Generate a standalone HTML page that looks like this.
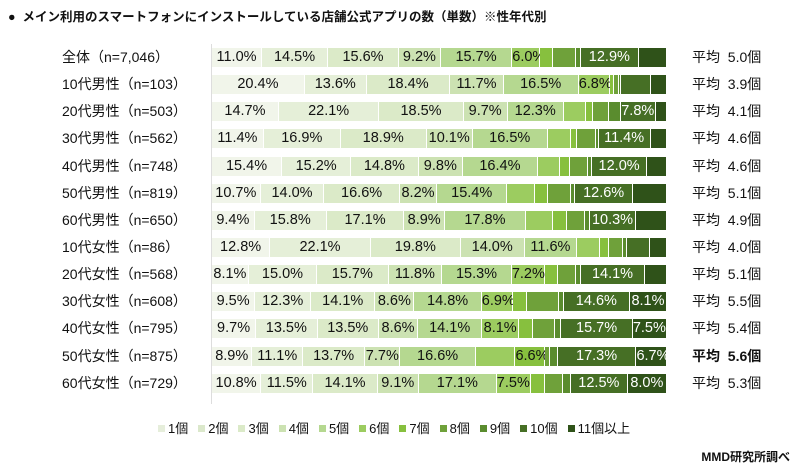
<!DOCTYPE html>
<html><head><meta charset="utf-8"><style>
body{margin:0;width:800px;height:475px;background:#fff;font-family:"Liberation Sans","Noto Sans CJK JP",sans-serif;position:relative;overflow:hidden;color:#111}
.t{position:absolute;left:8px;top:6px;font-size:12.5px;font-weight:bold}
.row{position:absolute;left:0;width:800px;height:19px}
.lab{position:absolute;left:62px;top:0;font-size:14px;line-height:19px}
.avg{position:absolute;left:692px;top:0;font-size:14px;line-height:19px}
.bar{position:absolute;left:212px;width:455px;height:19px;display:flex}
.bar i{display:block;height:19px;box-sizing:border-box;border-right:1px solid #fff;font-style:normal;font-size:14.5px;line-height:19px;text-align:center;white-space:nowrap;overflow:visible}
.c1{background:#f1f5ea}.c2{background:#e5efd8}.c3{background:#dbeac8}.c4{background:#cce2b2}.c5{background:#b5d890}.c6{background:#9ccc60}.c7{background:#87c03e}.c8{background:#6fa13a}.c9{background:#5a8c2e}.c10{background:#466f25;color:#fff}.c11{background:#2f5219}
.axis{position:absolute;left:211px;top:44px;width:1px;height:360px;background:#ddd}
.leg{position:absolute;top:418px;left:158px;font-size:13px;display:flex;gap:0}
.leg span{margin-right:10px}
.leg b{display:inline-block;width:7px;height:7px;margin-right:3px;vertical-align:1px}
.src{position:absolute;right:10px;top:448px;font-size:12px;font-weight:bold}
</style></head><body>
<div class="t">●&nbsp; メイン利用のスマートフォンにインストールしている店舗公式アプリの数（単数）※性年代別</div>
<div class="axis"></div>

<div class="row" style="top:48px"><div class="lab">全体（n=7,046）</div><div class="bar">
<i class="c1" style="width:11%">11.0%</i><i class="c2" style="width:14.5%">14.5%</i><i class="c3" style="width:15.6%">15.6%</i><i class="c4" style="width:9.2%">9.2%</i><i class="c5" style="width:15.7%">15.7%</i><i class="c6" style="width:6%">6.0%</i><i class="c7" style="width:3%"></i><i class="c8" style="width:5%"></i><i class="c9" style="width:1%"></i><i class="c10" style="width:12.9%">12.9%</i><i class="c11" style="width:6.1%"></i></div><div class="avg">平均&nbsp; 5.0個</div></div>

<div class="row" style="top:75px"><div class="lab">10代男性（n=103）</div><div class="bar">
<i class="c1" style="width:20.4%">20.4%</i><i class="c2" style="width:13.6%">13.6%</i><i class="c3" style="width:18.4%">18.4%</i><i class="c4" style="width:11.7%">11.7%</i><i class="c5" style="width:16.5%">16.5%</i><i class="c6" style="width:6.8%">6.8%</i><i class="c7" style="width:1%"></i><i class="c8" style="width:1%"></i><i class="c9" style="width:.6%"></i><i class="c10" style="width:6.5%"></i><i class="c11" style="width:3.5%"></i></div><div class="avg">平均&nbsp; 3.9個</div></div>

<div class="row" style="top:102px"><div class="lab">20代男性（n=503）</div><div class="bar">
<i class="c1" style="width:14.7%">14.7%</i><i class="c2" style="width:22.1%">22.1%</i><i class="c3" style="width:18.5%">18.5%</i><i class="c4" style="width:9.7%">9.7%</i><i class="c5" style="width:12.3%">12.3%</i><i class="c6" style="width:5%"></i><i class="c7" style="width:1.5%"></i><i class="c8" style="width:3.5%"></i><i class="c9" style="width:2.5%"></i><i class="c10" style="width:7.8%">7.8%</i><i class="c11" style="width:2.4%"></i></div><div class="avg">平均&nbsp; 4.1個</div></div>

<div class="row" style="top:129px"><div class="lab">30代男性（n=562）</div><div class="bar">
<i class="c1" style="width:11.4%">11.4%</i><i class="c2" style="width:16.9%">16.9%</i><i class="c3" style="width:18.9%">18.9%</i><i class="c4" style="width:10.1%">10.1%</i><i class="c5" style="width:16.5%">16.5%</i><i class="c6" style="width:5%"></i><i class="c7" style="width:1.5%"></i><i class="c8" style="width:4%"></i><i class="c9" style="width:.7%"></i><i class="c10" style="width:11.4%">11.4%</i><i class="c11" style="width:3.6%"></i></div><div class="avg">平均&nbsp; 4.6個</div></div>

<div class="row" style="top:157px"><div class="lab">40代男性（n=748）</div><div class="bar">
<i class="c1" style="width:15.4%">15.4%</i><i class="c2" style="width:15.2%">15.2%</i><i class="c3" style="width:14.8%">14.8%</i><i class="c4" style="width:9.8%">9.8%</i><i class="c5" style="width:16.4%">16.4%</i><i class="c6" style="width:5%"></i><i class="c7" style="width:2%"></i><i class="c8" style="width:4%"></i><i class="c9" style="width:1%"></i><i class="c10" style="width:12%">12.0%</i><i class="c11" style="width:4.4%"></i></div><div class="avg">平均&nbsp; 4.6個</div></div>

<div class="row" style="top:184px"><div class="lab">50代男性（n=819）</div><div class="bar">
<i class="c1" style="width:10.7%">10.7%</i><i class="c2" style="width:14%">14.0%</i><i class="c3" style="width:16.6%">16.6%</i><i class="c4" style="width:8.2%">8.2%</i><i class="c5" style="width:15.4%">15.4%</i><i class="c6" style="width:6%"></i><i class="c7" style="width:3%"></i><i class="c8" style="width:5%"></i><i class="c9" style="width:1%"></i><i class="c10" style="width:12.6%">12.6%</i><i class="c11" style="width:7.5%"></i></div><div class="avg">平均&nbsp; 5.1個</div></div>

<div class="row" style="top:211px"><div class="lab">60代男性（n=650）</div><div class="bar">
<i class="c1" style="width:9.4%">9.4%</i><i class="c2" style="width:15.8%">15.8%</i><i class="c3" style="width:17.1%">17.1%</i><i class="c4" style="width:8.9%">8.9%</i><i class="c5" style="width:17.8%">17.8%</i><i class="c6" style="width:6%"></i><i class="c7" style="width:3%"></i><i class="c8" style="width:4%"></i><i class="c9" style="width:1%"></i><i class="c10" style="width:10.3%">10.3%</i><i class="c11" style="width:6.7%"></i></div><div class="avg">平均&nbsp; 4.9個</div></div>

<div class="row" style="top:238px"><div class="lab">10代女性（n=86）</div><div class="bar">
<i class="c1" style="width:12.8%">12.8%</i><i class="c2" style="width:22.1%">22.1%</i><i class="c3" style="width:19.8%">19.8%</i><i class="c4" style="width:14%">14.0%</i><i class="c5" style="width:11.6%">11.6%</i><i class="c6" style="width:5%"></i><i class="c7" style="width:2%"></i><i class="c8" style="width:3%"></i><i class="c9" style="width:1%"></i><i class="c10" style="width:5%"></i><i class="c11" style="width:3.7%"></i></div><div class="avg">平均&nbsp; 4.0個</div></div>

<div class="row" style="top:265px"><div class="lab">20代女性（n=568）</div><div class="bar">
<i class="c1" style="width:8.1%">8.1%</i><i class="c2" style="width:15%">15.0%</i><i class="c3" style="width:15.7%">15.7%</i><i class="c4" style="width:11.8%">11.8%</i><i class="c5" style="width:15.3%">15.3%</i><i class="c6" style="width:7.2%">7.2%</i><i class="c7" style="width:3%"></i><i class="c8" style="width:4%"></i><i class="c9" style="width:1%"></i><i class="c10" style="width:14.1%">14.1%</i><i class="c11" style="width:4.8%"></i></div><div class="avg">平均&nbsp; 5.1個</div></div>

<div class="row" style="top:292px"><div class="lab">30代女性（n=608）</div><div class="bar">
<i class="c1" style="width:9.5%">9.5%</i><i class="c2" style="width:12.3%">12.3%</i><i class="c3" style="width:14.1%">14.1%</i><i class="c4" style="width:8.6%">8.6%</i><i class="c5" style="width:14.8%">14.8%</i><i class="c6" style="width:6.9%">6.9%</i><i class="c7" style="width:3%"></i><i class="c8" style="width:7.1%"></i><i class="c9" style="width:1%"></i><i class="c10" style="width:14.6%">14.6%</i><i class="c11" style="width:8.1%;color:#fff">8.1%</i></div><div class="avg">平均&nbsp; 5.5個</div></div>

<div class="row" style="top:319px"><div class="lab">40代女性（n=795）</div><div class="bar">
<i class="c1" style="width:9.7%">9.7%</i><i class="c2" style="width:13.5%">13.5%</i><i class="c3" style="width:13.5%">13.5%</i><i class="c4" style="width:8.6%">8.6%</i><i class="c5" style="width:14.1%">14.1%</i><i class="c6" style="width:8.1%">8.1%</i><i class="c7" style="width:3%"></i><i class="c8" style="width:5%"></i><i class="c9" style="width:1.3%"></i><i class="c10" style="width:15.7%">15.7%</i><i class="c11" style="width:7.5%;color:#fff">7.5%</i></div><div class="avg">平均&nbsp; 5.4個</div></div>

<div class="row" style="top:347px"><div class="lab">50代女性（n=875）</div><div class="bar">
<i class="c1" style="width:8.9%">8.9%</i><i class="c2" style="width:11.1%">11.1%</i><i class="c3" style="width:13.7%">13.7%</i><i class="c4" style="width:7.7%">7.7%</i><i class="c5" style="width:16.6%">16.6%</i><i class="c6" style="width:8.7%"></i><i class="c7" style="width:6.6%">6.6%</i><i class="c8" style="width:1%"></i><i class="c9" style="width:1.7%"></i><i class="c10" style="width:17.3%">17.3%</i><i class="c11" style="width:6.7%;color:#fff">6.7%</i></div><div class="avg" style="font-weight:bold">平均&nbsp; 5.6個</div></div>

<div class="row" style="top:374px"><div class="lab">60代女性（n=729）</div><div class="bar">
<i class="c1" style="width:10.8%">10.8%</i><i class="c2" style="width:11.5%">11.5%</i><i class="c3" style="width:14.1%">14.1%</i><i class="c4" style="width:9.1%">9.1%</i><i class="c5" style="width:17.1%">17.1%</i><i class="c6" style="width:7.5%">7.5%</i><i class="c7" style="width:3%"></i><i class="c8" style="width:4%"></i><i class="c9" style="width:1.8%"></i><i class="c10" style="width:12.5%">12.5%</i><i class="c11" style="width:8.6%;color:#fff">8.0%</i></div><div class="avg">平均&nbsp; 5.3個</div></div>

<div class="leg">
<span><b style="background:#e6eedb"></b>1個</span><span><b style="background:#dbe8cb"></b>2個</span><span><b class="c3"></b>3個</span><span><b class="c4"></b>4個</span><span><b class="c5"></b>5個</span><span><b class="c6"></b>6個</span><span><b class="c7"></b>7個</span><span><b class="c8"></b>8個</span><span><b class="c9"></b>9個</span><span><b class="c10"></b>10個</span><span><b class="c11"></b>11個以上</span>
</div>
<div class="src">MMD研究所調べ</div>
</body></html>
